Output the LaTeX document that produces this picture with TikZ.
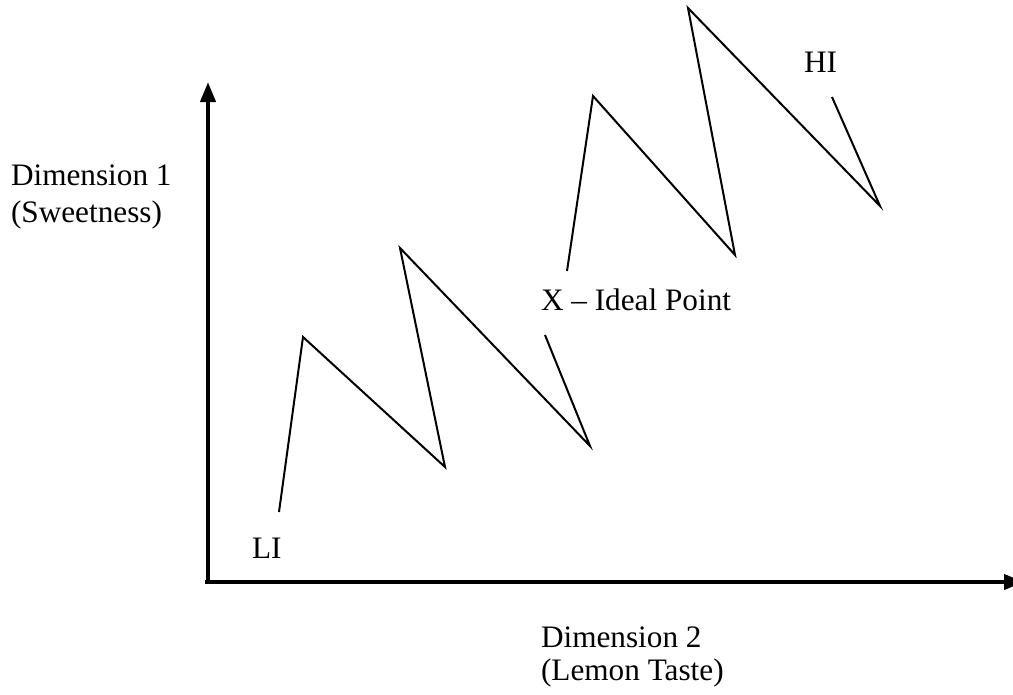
\documentclass[tikz,border=0pt]{standalone}
\usepackage{fontspec}
\setmainfont{Liberation Serif}
\usetikzlibrary{arrows.meta}
\begin{document}
\begin{tikzpicture}[x=0.4pt, y=-0.4pt, line width=0.8pt,
  lbl/.style={anchor=base west, inner sep=0pt, font=\fontsize{12.5}{14.5}\selectfont},
  axis/.style={line width=1.6pt, -{Triangle[length=8pt, width=6pt]}}]
\useasboundingbox (0,0) rectangle (1013,694);
% axes
\coordinate (origin) at (208,582);
\coordinate (ytip) at (208,82);
\coordinate (xtip) at (1024,582);
\draw[axis] (origin) -- (ytip);
\draw[axis] (205,582) -- (xtip);

\node[lbl] (dimone) at (10,185) {Dimension 1};
\node[lbl] (sweet) at (10,222) {(Sweetness)};
\node[lbl] (dimtwo) at (540,647) {Dimension 2};
\node[lbl] (lemon) at (540,680) {(Lemon Taste)};

% zigzag path
\draw (279,512)--(303,337)--(445,467)--(400,248)--(590,446)--(545,335);
\draw (567,271)--(593,96)--(735,255)--(688,8)--(880,206)--(832,97);

\node[lbl] (li) at (251,558) {LI};
\node[lbl] (hi) at (803,72) {HI};
\node[lbl] (ideal) at (540,310) {X -- Ideal Point};
\end{tikzpicture}
\end{document}
